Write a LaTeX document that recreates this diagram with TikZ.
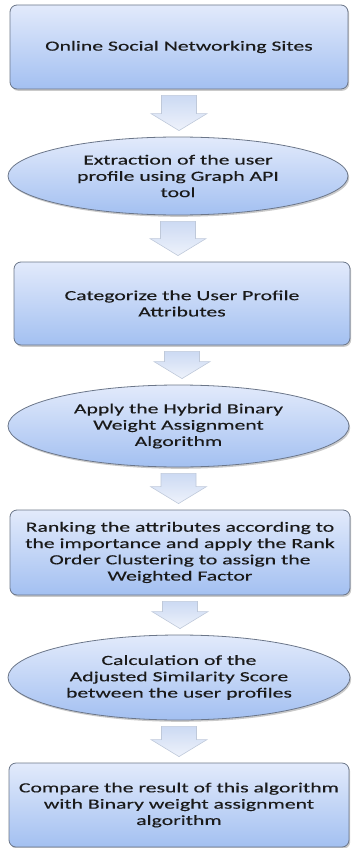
\documentclass[tikz,border=0pt]{standalone}
\usepackage{fontspec}
\setmainfont{Carlito}[FakeStretch=1.55, FakeBold=0.25]
\usetikzlibrary{shapes.geometric,shadows,calc}

\definecolor{boxtop}{HTML}{E2EAFB}
\definecolor{boxbottom}{HTML}{A3C0F1}
\definecolor{boxline}{HTML}{6B7689}
\definecolor{arrtop}{HTML}{CCDAF3}
\definecolor{arrbottom}{HTML}{EEF2FB}
\definecolor{arrline}{HTML}{BFC9DA}
\definecolor{txt}{HTML}{1A1A1A}

\tikzset{
  x=1pt, y=1pt,
  stage/.style={draw=boxline, line width=0.8pt, top color=boxtop, bottom color=boxbottom,
    text=txt, font=\fontsize{14}{16.3}\selectfont, align=center, inner sep=0pt,
    drop shadow={shadow xshift=1.2pt, shadow yshift=-1.8pt, opacity=0.35, fill=black!60}},
  stepbox/.style={stage, rectangle, rounded corners=7pt, minimum width=#1},
  stepbox/.default=338pt,
  stepoval/.style={stage, ellipse, minimum width=#1},
  stepoval/.default=340pt,
  blockarrow/.style={draw=arrline, line width=0.6pt, top color=arrtop, bottom color=arrbottom}
}

% block arrow from the bottom of #1 to the top of #2
\newcommand\flowarrow[2]{%
  \path[blockarrow] let \p1=($(#1.south)+(0,-6)$), \p2=($(#2.north)+(0,6)$) in
    (\x1-17.5pt,\y1) -- (\x1+17.5pt,\y1) -- (\x1+17.5pt,\y2+17pt) -- (\x1+28pt,\y2+17pt)
    -- (\x1,\y2) -- (\x1-28pt,\y2+17pt) -- (\x1-17.5pt,\y2+17pt) -- cycle;}

\begin{document}
\begin{tikzpicture}
\useasboundingbox (0,0) rectangle (351,-848);

\node[stepbox, minimum height=84pt] (b1) at (179,-47) {Online Social Networking Sites};
\node[stepoval, minimum height=78pt] (e1) at (178,-176)
  {Extraction of the user\\profile using Graph API\\tool};
\node[stepbox=336pt, minimum height=83pt] (b2) at (182,-303.5)
  {Categorize the User Profile\\Attributes};
\node[stepoval=341pt, minimum height=82pt] (e2) at (178.5,-426)
  {Apply the Hybrid Binary\\Weight Assignment\\Algorithm};
\node[stepbox=340pt, minimum height=85pt] (b3) at (180,-552.5)
  {Ranking the attributes according to\\the importance and apply the Rank\\Order Clustering to assign the\\Weighted Factor};
\node[stepoval=342pt, minimum height=85pt] (e3) at (179,-677.5)
  {Calculation of the\\Adjusted Similarity Score\\between the user profiles};
\node[stepbox=340pt, minimum height=84pt] (b4) at (179,-805)
  {Compare the result of this algorithm\\with Binary weight assignment\\algorithm};

\flowarrow{b1}{e1}
\flowarrow{e1}{b2}
\flowarrow{b2}{e2}
\flowarrow{e2}{b3}
\flowarrow{b3}{e3}
\flowarrow{e3}{b4}
\end{tikzpicture}
\end{document}
